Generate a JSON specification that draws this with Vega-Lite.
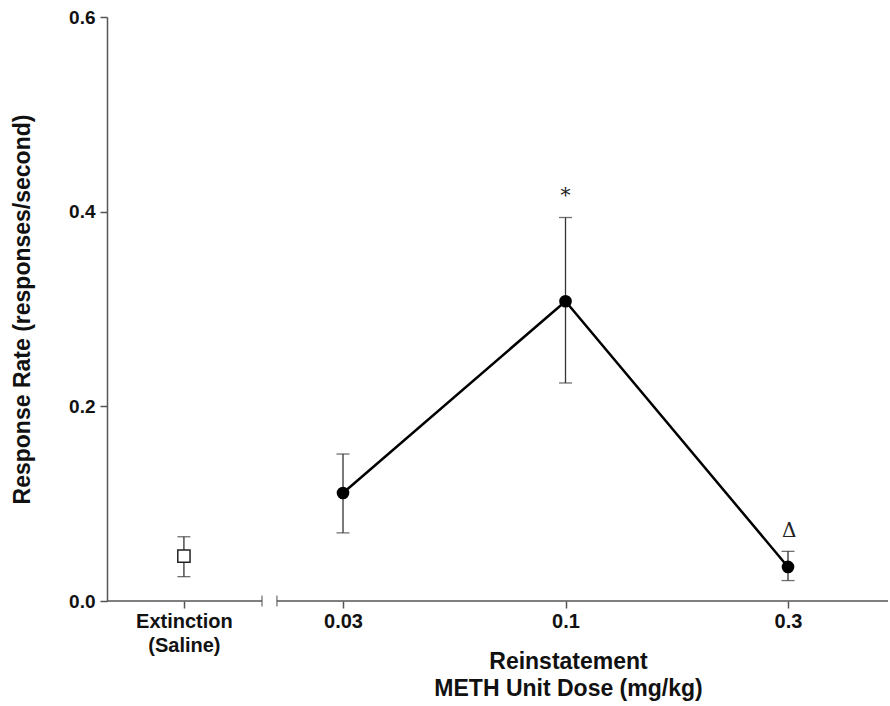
{
  "$schema": "https://vega.github.io/schema/vega-lite/v6.json",
  "width": 781,
  "height": 584,
  "autosize": "none",
  "padding": {"left": 107, "top": 17, "right": 2, "bottom": 105},
  "background": "white",
  "config": {"view": {"stroke": null}, "font": "Liberation Sans"},
  "datasets": {
    "pts": [
      {"group": "Extinction", "label": "Extinction (Saline)", "pos": 0.285, "rate": 0.046, "lo": 0.025, "hi": 0.066},
      {"group": "Dose", "label": "0.03", "pos": 1, "rate": 0.111, "lo": 0.070, "hi": 0.151},
      {"group": "Dose", "label": "0.1", "pos": 2, "rate": 0.308, "lo": 0.224, "hi": 0.394},
      {"group": "Dose", "label": "0.3", "pos": 3, "rate": 0.035, "lo": 0.021, "hi": 0.051}
    ],
    "segs": [
      {"x1": -0.0607, "x2": 0.636, "y": 0},
      {"x1": 0.703, "x2": 3.4494, "y": 0}
    ],
    "brk": [{"pos": 0.636, "y": 0}, {"pos": 0.703, "y": 0}],
    "notes": [
      {"pos": 2, "y": 0.416, "t": "*"},
      {"pos": 3.005, "y": 0.072, "t": "Δ"}
    ]
  },
  "layer": [
    {
      "data": {"name": "segs"},
      "mark": {"type": "rule", "color": "#555555", "strokeWidth": 1.5},
      "encoding": {
        "x": {"field": "x1", "type": "quantitative", "scale": {"domain": [-0.0607, 3.4494], "nice": false, "zero": false},
          "axis": {"values": [0.285, 1, 2, 3], "domain": false, "grid": false, "tickSize": 7, "tickColor": "#555555", "tickWidth": 1.5,
            "labelExpr": "datum.value < 0.5 ? ['Extinction', '(Saline)'] : datum.value == 1 ? '0.03' : datum.value == 2 ? '0.1' : '0.3'",
            "labelFont": "Liberation Sans", "labelFontWeight": "bold", "labelFontSize": 20, "labelColor": "#111111", "labelPadding": 3, "labelLineHeight": 24,
            "title": ["Reinstatement", "METH Unit Dose (mg/kg)"], "titleFont": "Liberation Sans", "titleFontWeight": "bold", "titleFontSize": 23, "titleColor": "#111111",
            "titleX": 461, "titleY": 49, "titleLineHeight": 27, "titleBaseline": "top"}},
        "x2": {"field": "x2"},
        "y": {"field": "y", "type": "quantitative", "scale": {"domain": [0, 0.6], "nice": false},
          "axis": {"values": [0, 0.2, 0.4, 0.6], "format": ".1f", "grid": false, "domainColor": "#555555", "domainWidth": 1.5, "tickSize": 7, "tickColor": "#555555", "tickWidth": 1.5,
            "labelFont": "Liberation Sans", "labelFontWeight": "bold", "labelFontSize": 19, "labelColor": "#111111", "labelPadding": 5,
            "title": "Response Rate (responses/second)", "titleFont": "Liberation Sans", "titleFontWeight": "bold", "titleFontSize": 23, "titleColor": "#111111",
            "titleX": -85, "titleY": 292, "titleBaseline": "middle", "titleAlign": "center", "titleAngle": -90}}
      }
    },
    {
      "data": {"name": "brk"},
      "mark": {"type": "tick", "orient": "vertical", "color": "#555555", "thickness": 1.5, "size": 11},
      "encoding": {"x": {"field": "pos", "type": "quantitative"}, "y": {"field": "y", "type": "quantitative"}}
    },
    {
      "data": {"name": "pts"},
      "mark": {"type": "rule", "color": "#333333", "strokeWidth": 1.3},
      "encoding": {"x": {"field": "pos", "type": "quantitative"}, "y": {"field": "lo", "type": "quantitative"}, "y2": {"field": "hi"}}
    },
    {
      "data": {"name": "pts"},
      "mark": {"type": "tick", "orient": "horizontal", "color": "#333333", "thickness": 1.3, "size": 13},
      "encoding": {"x": {"field": "pos", "type": "quantitative"}, "y": {"field": "lo", "type": "quantitative"}}
    },
    {
      "data": {"name": "pts"},
      "mark": {"type": "tick", "orient": "horizontal", "color": "#333333", "thickness": 1.3, "size": 13},
      "encoding": {"x": {"field": "pos", "type": "quantitative"}, "y": {"field": "hi", "type": "quantitative"}}
    },
    {
      "data": {"name": "pts"},
      "transform": [{"filter": "datum.group == 'Dose'"}],
      "mark": {"type": "line", "color": "black", "strokeWidth": 2.5},
      "encoding": {"x": {"field": "pos", "type": "quantitative"}, "y": {"field": "rate", "type": "quantitative"}}
    },
    {
      "data": {"name": "pts"},
      "transform": [{"filter": "datum.group == 'Dose'"}],
      "mark": {"type": "point", "shape": "circle", "filled": true, "color": "black", "size": 160, "opacity": 1},
      "encoding": {"x": {"field": "pos", "type": "quantitative"}, "y": {"field": "rate", "type": "quantitative"}}
    },
    {
      "data": {"name": "pts"},
      "transform": [{"filter": "datum.group == 'Extinction'"}],
      "mark": {"type": "point", "shape": "square", "filled": false, "fill": "white", "fillOpacity": 1, "stroke": "#222222", "strokeWidth": 1.5, "size": 150, "opacity": 1},
      "encoding": {"x": {"field": "pos", "type": "quantitative"}, "y": {"field": "rate", "type": "quantitative"}}
    },
    {
      "data": {"name": "notes"},
      "mark": {"type": "text", "font": "DejaVu Serif", "fontSize": 20, "color": "#222222", "baseline": "middle", "align": "center"},
      "encoding": {"x": {"field": "pos", "type": "quantitative"}, "y": {"field": "y", "type": "quantitative"}, "text": {"field": "t"}}
    }
  ]
}
